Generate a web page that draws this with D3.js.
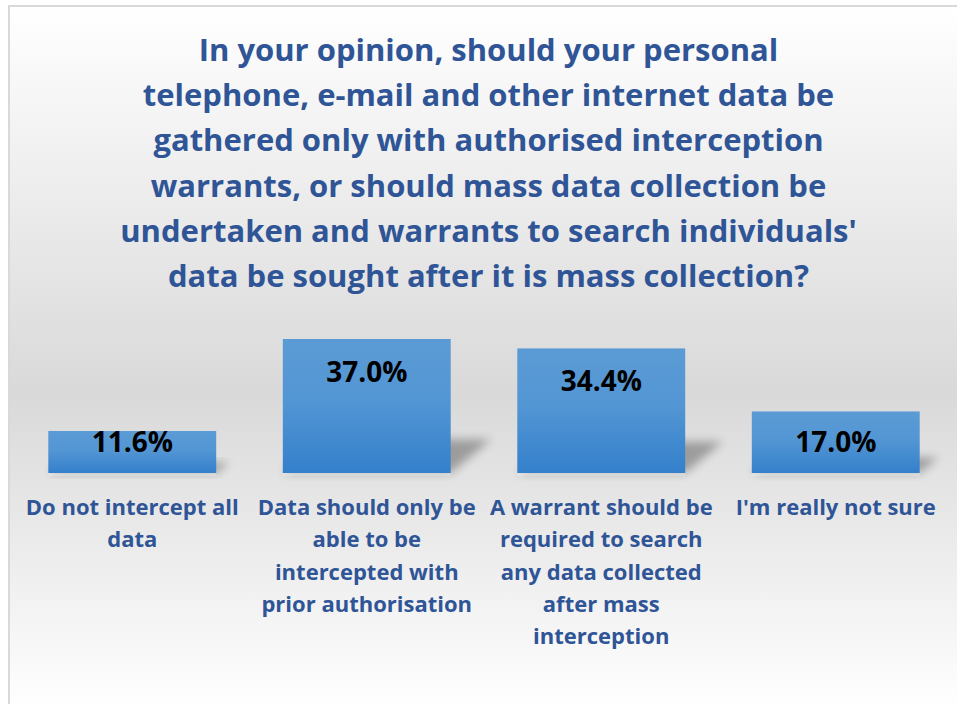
<!DOCTYPE html>
<html>
<head>
<meta charset="utf-8">
<script src="https://cdn.jsdelivr.net/npm/d3@7/dist/d3.min.js"></script>
<style>
  html, body { margin: 0; padding: 0; background: #ffffff; }
  svg { display: block; }
  text { font-family: "Open Sans", "Noto Sans", sans-serif; font-weight: bold; }
</style>
</head>
<body>
<script>
// ---- data ----
const titleLines = [
  "In your opinion, should your personal",
  "telephone, e-mail and other internet data be",
  "gathered only with authorised interception",
  "warrants, or should mass data collection be",
  "undertaken and warrants to search individuals'",
  "data be sought after it is mass collection?"
];
const categories = [
  "Do not intercept all data",
  "Data should only be able to be intercepted with prior authorisation",
  "A warrant should be required to search any data collected after mass interception",
  "I'm really not sure"
];
const values = [11.6, 37.0, 34.4, 17.0];
const valueLabels = ["11.6%", "37.0%", "34.4%", "17.0%"];

// ---- layout ----
const W = 957, H = 704;
const svg = d3.select("body").append("svg").attr("width", W).attr("height", H);
const defs = svg.append("defs");

const bg = defs.append("linearGradient").attr("id", "bgGrad")
  .attr("x1", 0).attr("y1", 0).attr("x2", 0).attr("y2", 1);
bg.append("stop").attr("offset", "0%").attr("stop-color", "#ffffff");
bg.append("stop").attr("offset", "55%").attr("stop-color", "#d9d9d9");
bg.append("stop").attr("offset", "100%").attr("stop-color", "#ffffff");

const barGrad = defs.append("linearGradient").attr("id", "barGrad")
  .attr("x1", 0).attr("y1", 0).attr("x2", 0).attr("y2", 1);
barGrad.append("stop").attr("offset", "0%").attr("stop-color", "#5b9bd5");
barGrad.append("stop").attr("offset", "45%").attr("stop-color", "#5396d4");
barGrad.append("stop").attr("offset", "100%").attr("stop-color", "#3480cb");

const blur = defs.append("filter").attr("id", "shadowBlur")
  .attr("x", "-50%").attr("y", "-50%").attr("width", "200%").attr("height", "200%");
blur.append("feGaussianBlur").attr("stdDeviation", 5);

// chart box background + border
svg.append("rect").attr("x", 9).attr("y", 6).attr("width", W).attr("height", H)
  .attr("fill", "url(#bgGrad)");
svg.append("line").attr("x1", 9).attr("y1", 6).attr("x2", W).attr("y2", 6)
  .attr("stroke", "#d9d9d9").attr("stroke-width", 2);
svg.append("line").attr("x1", 9).attr("y1", 5).attr("x2", 9).attr("y2", H)
  .attr("stroke", "#d9d9d9").attr("stroke-width", 2);

// title
const titleColor = "#2f5597";
const title = svg.append("g");
title.selectAll("text").data(titleLines).join("text")
  .attr("x", 488.5)
  .attr("y", (d, i) => 61 + i * 45.2)
  .attr("text-anchor", "middle")
  .attr("fill", titleColor)
  .attr("font-size", 31)
  .text(d => d);

// scales
const x = d3.scaleBand().domain(categories).range([15, 953]).paddingInner(0.284).paddingOuter(0.142);
const y = d3.scaleLinear().domain([0, 37]).range([473, 339]);

const g = svg.append("g");

// perspective shadows
g.selectAll("path.shadow").data(values).join("path")
  .attr("class", "shadow")
  .attr("d", (d, i) => {
    const x0 = x(categories[i]), x1 = x0 + x.bandwidth();
    const h = y(0) - y(d);
    const hs = h * 0.25, dx = h * 0.3;
    return `M${x0},${y(0)} L${x1},${y(0)} L${x1 + dx},${y(0) - hs} L${x0 + dx},${y(0) - hs} Z`;
  })
  .attr("fill", "#000")
  .attr("opacity", 0.3)
  .attr("filter", "url(#shadowBlur)");

// light strip under bars
g.selectAll("rect.refl").data(values).join("rect")
  .attr("class", "refl")
  .attr("x", (d, i) => x(categories[i]))
  .attr("y", y(0))
  .attr("width", x.bandwidth())
  .attr("height", 3)
  .attr("fill", "#ffffff").attr("opacity", 0.25);

// bars
g.selectAll("rect.bar").data(values).join("rect")
  .attr("class", "bar")
  .attr("x", (d, i) => x(categories[i]))
  .attr("y", d => y(d))
  .attr("width", x.bandwidth())
  .attr("height", d => y(0) - y(d))
  .attr("fill", "url(#barGrad)");

// value labels
g.selectAll("text.val").data(values).join("text")
  .attr("class", "val")
  .attr("x", (d, i) => x(categories[i]) + x.bandwidth() / 2)
  .attr("y", d => Math.min(y(d) + 43, y(0) - 21))
  .attr("text-anchor", "middle")
  .attr("font-size", 28)
  .attr("fill", "#000000")
  .text((d, i) => valueLabels[i]);

// category labels (wrapped)
const labSize = 22;
const maxW = 228;
const labG = svg.append("g");
categories.forEach((c, i) => {
  const t = labG.append("text")
    .attr("text-anchor", "middle")
    .attr("font-size", labSize)
    .attr("fill", titleColor);
  const cx = x(c) + x.bandwidth() / 2;
  const words = c.split(" ");
  let lines = [], cur = [];
  const probe = labG.append("text").attr("font-size", labSize);
  words.forEach(w => {
    const trial = cur.concat([w]).join(" ");
    probe.text(trial);
    if (probe.node().getComputedTextLength() > maxW && cur.length) {
      lines.push(cur.join(" "));
      cur = [w];
    } else cur.push(w);
  });
  if (cur.length) lines.push(cur.join(" "));
  probe.remove();
  lines.forEach((l, j) => {
    t.append("tspan").attr("x", cx).attr("y", 515 + j * 32.3).text(l);
  });
});
</script>
</body>
</html>
